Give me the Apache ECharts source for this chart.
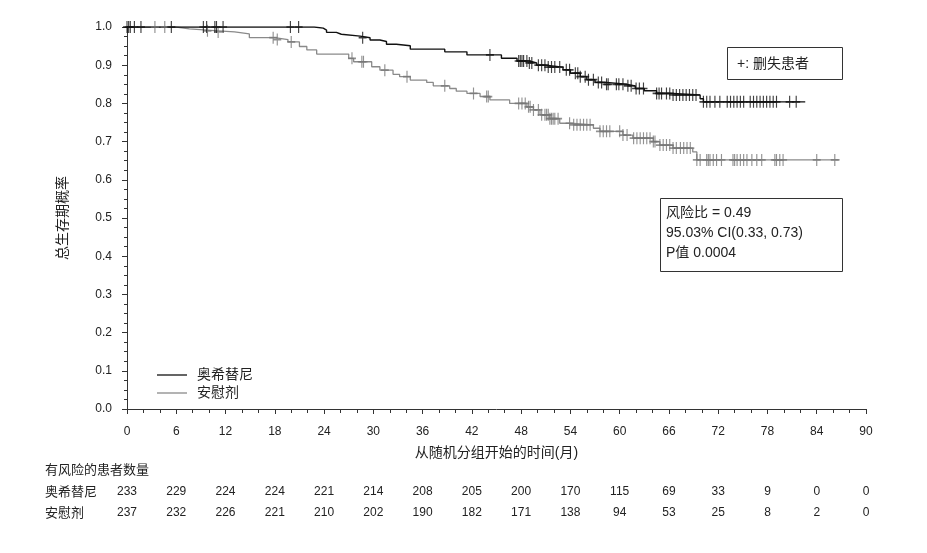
<!DOCTYPE html>
<html><head><meta charset="utf-8">
<script src="https://cdn.jsdelivr.net/npm/echarts@6/dist/echarts.min.js"></script>
<style>html,body{margin:0;padding:0;background:#fff}#c{width:927px;height:553px}</style>
</head><body><div id="c"></div>
<script>
// ---- Data ----
const seriesNames = ['奥希替尼', '安慰剂'];

// Osimertinib KM steps (time in months, survival)
const osiStepT = [0, 22.8, 23.9, 24.3, 25.5, 26.1, 28.4, 29.6, 30.8, 31.6, 32.8, 34.5, 38.7, 41.4, 45.6, 47.5, 49.0, 49.9, 51.0, 53.1, 54.0, 55.2, 56.0, 57.0, 58.4, 60.8, 61.9, 63.0, 64.5, 66.5, 69.8, 70.2];
const osiStepS = [1.0, 0.997, 0.992, 0.986, 0.981, 0.976, 0.972, 0.966, 0.962, 0.955, 0.951, 0.942, 0.935, 0.927, 0.918, 0.911, 0.906, 0.900, 0.895, 0.888, 0.879, 0.870, 0.862, 0.855, 0.850, 0.846, 0.839, 0.833, 0.826, 0.822, 0.812, 0.804];
const osiEnd = 82.6;
const osiCensor = [0, 0.2, 0.4, 0.9, 1.7, 5.4, 9.3, 9.7, 10.7, 10.9, 11.7, 19.9, 20.9, 28.7, 44.2,
  47.7, 47.9, 48.1, 48.3, 48.7, 49.0, 49.3, 50.1, 50.5, 50.9, 51.3, 51.7, 52.1, 52.7, 53.5, 53.9, 54.6, 54.9, 55.2, 55.8, 56.2, 56.8, 57.4, 57.8, 58.4, 58.6, 59.6, 59.9, 60.4, 61.0, 61.4, 62.0, 62.4, 62.9, 64.5, 64.8, 65.1, 65.7, 66.1, 66.5, 66.9, 67.3, 67.7, 68.1, 68.5, 68.9, 69.3,
  70.2, 70.6, 71.0, 71.6, 72.2, 73.1, 73.5, 73.9, 74.3, 74.7, 75.1, 75.9, 76.3, 76.7, 77.1, 77.5, 77.9, 78.3, 78.7, 79.1, 80.7, 81.5];

// Placebo KM steps
const plaStepT = [0, 6.0, 7.6, 11.1, 13.1, 14.9, 18.0, 19.6, 21.0, 21.9, 23.1, 27.0, 27.6, 29.8, 30.8, 32.4, 33.2, 34.5, 36.5, 37.3, 39.3, 40.1, 41.4, 43.0, 44.2, 46.6, 48.7, 49.5, 50.3, 51.5, 52.7, 54.0, 56.8, 57.6, 60.4, 61.6, 64.1, 64.9, 66.5, 68.9, 69.4];
const plaStepS = [1.0, 0.995, 0.990, 0.987, 0.982, 0.972, 0.967, 0.961, 0.949, 0.940, 0.929, 0.918, 0.909, 0.896, 0.887, 0.876, 0.870, 0.861, 0.855, 0.846, 0.839, 0.832, 0.826, 0.818, 0.809, 0.800, 0.791, 0.783, 0.770, 0.760, 0.748, 0.744, 0.735, 0.727, 0.717, 0.709, 0.700, 0.691, 0.683, 0.673, 0.652];
const plaEnd = 86.8;
const plaCensor = [3.4, 4.6, 9.8, 11.1, 17.8, 18.3, 20.0, 27.4, 28.6, 28.8, 31.4, 34.1, 38.7, 42.2, 43.8, 44.0,
  47.7, 48.1, 48.5, 48.9, 49.1, 49.5, 50.1, 50.5, 50.9, 51.1, 51.3, 51.5, 51.7, 51.9, 52.1, 52.5, 53.9, 54.4, 54.8, 55.2, 55.6, 56.0, 56.4, 57.6, 58.0, 58.4, 58.8, 60.0, 60.4, 60.9, 61.7, 62.1, 62.5, 62.9, 63.3, 63.7, 64.1, 64.3, 64.9, 65.3, 65.7, 66.1, 66.5, 66.9, 67.4, 67.8, 68.2, 68.6,
  69.4, 69.8, 70.6, 70.8, 71.0, 71.4, 71.8, 72.4, 73.8, 74.0, 74.3, 74.7, 75.1, 75.5, 76.1, 76.7, 77.3, 78.9, 79.1, 79.5, 79.9, 84.0, 86.2];

// Number at risk
const riskTimes = [0, 6, 12, 18, 24, 30, 36, 42, 48, 54, 60, 66, 72, 78, 84, 90];
const riskOsi = [233, 229, 224, 224, 221, 214, 208, 205, 200, 170, 115, 69, 33, 9, 0, 0];
const riskPla = [237, 232, 226, 221, 210, 202, 190, 182, 171, 138, 94, 53, 25, 8, 2, 0];

const yTicks = [0, 0.1, 0.2, 0.3, 0.4, 0.5, 0.6, 0.7, 0.8, 0.9, 1.0];

// ---- Build ----
function stepData(ts, ss, end) {
  const d = ts.map((t, i) => [t, ss[i]]);
  d.push([end, ss[ss.length - 1]]);
  return d;
}
function survAt(ts, ss, c) {
  let s = 1;
  for (let i = 0; i < ts.length; i++) if (ts[i] <= c) s = ss[i];
  return s;
}
const FONT = '"Liberation Sans", "Noto Sans CJK SC", sans-serif';
const BLACK = '#111111', GREY = '#8a8a8a', GREYM = '#777777';
const plus = 'path://M5,0L5,12M0,6L10,6';

const chart = echarts.init(document.getElementById('c'), null, {renderer: 'canvas'});

const baseX = {
  type: 'value', min: 0, max: 90, interval: 6, gridIndex: 0
};
const riskAxis = (arr, off) => Object.assign({}, baseX, {
  position: 'bottom', offset: off,
  axisLine: {show: false}, axisTick: {show: false}, splitLine: {show: false},
  axisLabel: {margin: 0, fontSize: 12, color: '#222', fontFamily: FONT,
    showMinLabel: true, showMaxLabel: true, hideOverlap: false,
    formatter: v => { const i = riskTimes.indexOf(Math.round(v)); return i >= 0 ? String(arr[i]) : ''; }}
});

chart.setOption({
  animation: false,
  backgroundColor: '#fff',
  textStyle: {fontFamily: FONT},
  grid: {left: 127, right: 61, top: 27, bottom: 144, containLabel: false},
  xAxis: [
    Object.assign({}, baseX, {
      position: 'bottom', offset: 4,
      name: '从随机分组开始的时间(月)', nameLocation: 'middle', nameGap: 33,
      nameTextStyle: {fontSize: 14, color: '#222', fontFamily: FONT},
      axisLine: {show: true, lineStyle: {color: '#333', width: 1}},
      axisTick: {show: true, length: 5, lineStyle: {color: '#333'}},
      minorTick: {show: true, splitNumber: 3, length: 4, lineStyle: {color: '#333'}},
      splitLine: {show: false},
      axisLabel: {margin: 13, fontSize: 12, color: '#222', fontFamily: FONT, showMinLabel: true, showMaxLabel: true}
    }),
    riskAxis(riskOsi, 77),
    riskAxis(riskPla, 98)
  ],
  yAxis: {
    type: 'value', min: 0, max: 1, interval: 0.1, offset: 4,
    name: '总生存期概率', nameLocation: 'middle', nameGap: 53,
    nameTextStyle: {fontSize: 14, color: '#222', fontFamily: FONT},
    axisLine: {show: true, lineStyle: {color: '#333', width: 1}},
    axisTick: {show: true, length: 5, lineStyle: {color: '#333'}},
    minorTick: {show: true, splitNumber: 4, length: 3, lineStyle: {color: '#333'}},
    splitLine: {show: false},
    axisLabel: {margin: 11, fontSize: 12, color: '#222', fontFamily: FONT, formatter: v => v.toFixed(1)}
  },
  legend: {
    data: [{name: seriesNames[0], icon: 'rect'}, {name: seriesNames[1], icon: 'rect'}],
    orient: 'vertical', left: 152, top: 362, itemWidth: 30, itemHeight: 1.3, itemGap: 2,
    textStyle: {fontSize: 14, color: '#222', fontFamily: FONT, lineHeight: 16, padding: [0, 0, 0, 5]},
    selectedMode: false
  },
  series: [
    {name: seriesNames[0], type: 'line', step: 'end', symbol: 'none', z: 3,
     lineStyle: {color: BLACK, width: 1.4}, itemStyle: {color: BLACK},
     data: stepData(osiStepT, osiStepS, osiEnd)},
    {name: seriesNames[1], type: 'line', step: 'end', symbol: 'none', z: 2,
     lineStyle: {color: GREY, width: 1.3}, itemStyle: {color: GREY},
     data: stepData(plaStepT, plaStepS, plaEnd)},
    {name: 'osiCensor', type: 'scatter', symbol: plus, symbolSize: [8, 12], z: 4,
     itemStyle: {color: 'none', borderColor: BLACK, borderWidth: 1.4},
     data: osiCensor.map(c => [c, survAt(osiStepT, osiStepS, c)])},
    {name: 'plaCensor', type: 'scatter', symbol: plus, symbolSize: [8, 12], z: 3,
     itemStyle: {color: 'none', borderColor: GREYM, borderWidth: 1.4},
     data: plaCensor.map(c => [c, survAt(plaStepT, plaStepS, c)])}
  ],
  graphic: [
    {type: 'rect', shape: {x: 727.5, y: 47.5, width: 115, height: 32},
     style: {fill: 'none', stroke: '#333', lineWidth: 1}},
    {type: 'text', x: 737, y: 64, style: {text: '+: 删失患者', font: '14px ' + FONT, fill: '#222', verticalAlign: 'middle'}},
    {type: 'rect', shape: {x: 660.5, y: 198.5, width: 182, height: 73},
     style: {fill: 'none', stroke: '#333', lineWidth: 1}},
    {type: 'text', x: 666, y: 213, style: {text: '风险比 = 0.49', font: '14px ' + FONT, fill: '#222', verticalAlign: 'middle'}},
    {type: 'text', x: 666, y: 233, style: {text: '95.03% CI(0.33, 0.73)', font: '14px ' + FONT, fill: '#222', verticalAlign: 'middle'}},
    {type: 'text', x: 666, y: 253, style: {text: 'P值 0.0004', font: '14px ' + FONT, fill: '#222', verticalAlign: 'middle'}},
    {type: 'text', x: 45, y: 470, style: {text: '有风险的患者数量', font: '13px ' + FONT, fill: '#222', verticalAlign: 'middle'}},
    {type: 'text', x: 45, y: 492, style: {text: seriesNames[0], font: '13px ' + FONT, fill: '#222', verticalAlign: 'middle'}},
    {type: 'text', x: 45, y: 513, style: {text: seriesNames[1], font: '13px ' + FONT, fill: '#222', verticalAlign: 'middle'}}
  ]
});
</script>
</body></html>
